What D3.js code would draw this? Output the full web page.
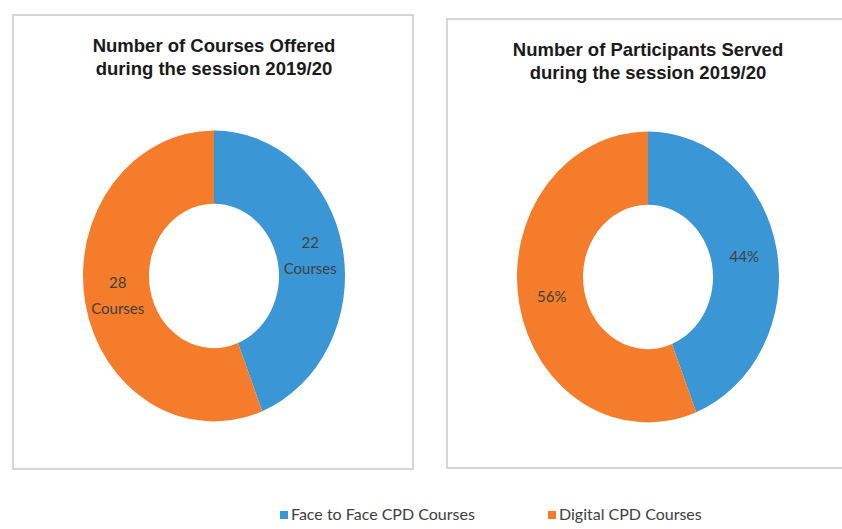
<!DOCTYPE html>
<html>
<head>
    <meta charset="UTF-8">
    <script src="https://d3js.org/d3.v7.min.js"></script>
    <style>
        body {
            margin: 0;
            background-color: #ffffff;
        }
        .title {
            font-family: 'Liberation Sans', Arial, sans-serif;
            font-weight: bold;
            font-size: 18.5px;
            fill: #1a1a1a;
        }
        .label {
            font-family: Lato, 'Open Sans', sans-serif;
            font-size: 15px;
            fill: #404040;
        }
        .legend {
            font-family: Lato, 'Open Sans', sans-serif;
            font-size: 16px;
            fill: #404040;
        }
    </style>
</head>
<body>
    <svg id="chart" width="842" height="529"></svg>
    <script>
        // data
        var categories = ["Face to Face CPD Courses", "Digital CPD Courses"];
        var coursesValues = [22, 28];
        var coursesLabels = [["22", "Courses"], ["28", "Courses"]];
        var participantsValues = [44, 56];
        var participantsLabels = [["44%"], ["56%"]];
        var titles = [
            ["Number of Courses Offered", "during the session 2019/20"],
            ["Number of Participants Served", "during the session 2019/20"]
        ];

        var color = d3.scaleOrdinal()
            .domain(categories)
            .range(["#3a96d5", "#f47c2a"]);

        var svg = d3.select("#chart");

        var panels = [
            { x: 13, y: 15, w: 400, h: 454, cx: 214, cy: 276, values: coursesValues, labels: coursesLabels, title: titles[0], ty: 52 },
            { x: 447, y: 19, w: 410, h: 449, cx: 648, cy: 277, values: participantsValues, labels: participantsLabels, title: titles[1], ty: 56 }
        ];

        var outerR = 131;
        var innerR = 65;
        var stretchY = 1.11;   // the source image is slightly taller than wide

        var pie = d3.pie().sort(null).value(function (d) { return d; });
        var arc = d3.arc().innerRadius(innerR).outerRadius(outerR);

        panels.forEach(function (p) {
            // frame
            svg.append("rect")
                .attr("x", p.x).attr("y", p.y)
                .attr("width", p.w).attr("height", p.h)
                .attr("fill", "#ffffff")
                .attr("stroke", "#c9c9c9")
                .attr("stroke-width", 1.5);

            // title
            var t = svg.append("text")
                .attr("class", "title")
                .attr("text-anchor", "middle")
                .attr("x", p.cx)
                .attr("y", p.ty);
            p.title.forEach(function (line, i) {
                t.append("tspan")
                    .attr("x", p.cx)
                    .attr("dy", i === 0 ? 0 : 22.5)
                    .text(line);
            });

            var g = svg.append("g")
                .attr("transform", "translate(" + p.cx + "," + p.cy + ") scale(1," + stretchY + ")");

            var arcs = pie(p.values);

            g.selectAll("path")
                .data(arcs)
                .enter()
                .append("path")
                .attr("d", arc)
                .attr("fill", function (d, i) { return color(categories[i]); });

            // labels at centroid (not stretched)
            var lg = svg.append("g")
                .attr("transform", "translate(" + p.cx + "," + p.cy + ")");
            arcs.forEach(function (d, i) {
                var c = arc.centroid(d);
                var cy = c[1] * stretchY;
                var lines = p.labels[i];
                var lt = lg.append("text")
                    .attr("class", "label")
                    .attr("text-anchor", "middle")
                    .attr("x", c[0])
                    .attr("y", cy - (lines.length - 1) * 13 + 5);
                lines.forEach(function (line, j) {
                    lt.append("tspan")
                        .attr("x", c[0])
                        .attr("dy", j === 0 ? 0 : 26)
                        .text(line);
                });
            });
        });

        // legend
        var legendX = [280, 548];
        var leg = svg.append("g");
        categories.forEach(function (c, i) {
            leg.append("rect")
                .attr("x", legendX[i])
                .attr("y", 511)
                .attr("width", 8)
                .attr("height", 8)
                .attr("fill", color(c));
            leg.append("text")
                .attr("class", "legend")
                .attr("x", legendX[i] + 11)
                .attr("y", 520)
                .text(c);
        });
    </script>
</body>
</html>
